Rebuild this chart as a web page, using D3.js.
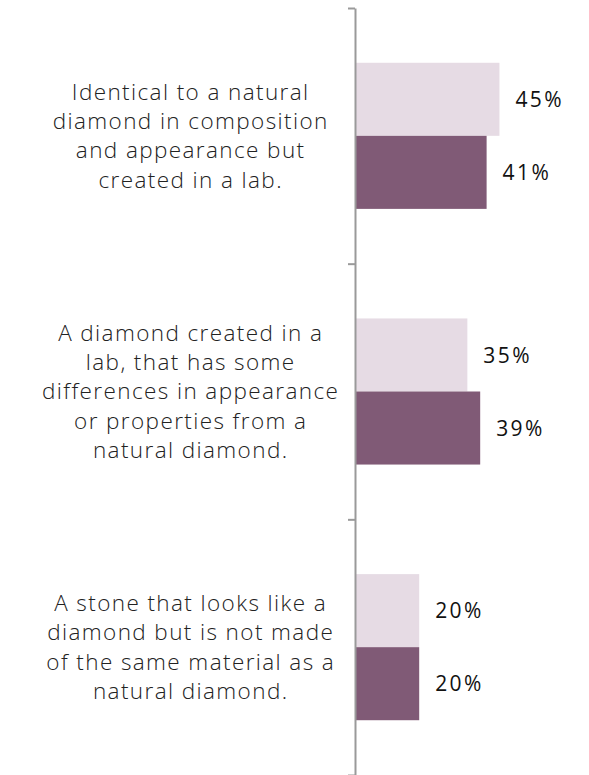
<!DOCTYPE html>
<html>
<head>
<meta charset="utf-8">
<script src="https://cdn.jsdelivr.net/npm/d3@7"></script>
<style>
  html, body { margin: 0; padding: 0; background: #fff; }
  svg { display: block; }
</style>
</head>
<body>
<svg id="chart" width="589" height="775"></svg>
<script>
// Survey answers: what is a lab-grown diamond?
const categories = [
  ["Identical to a natural", "diamond in composition", "and appearance but", "created in a lab."],
  ["A diamond created in a", "lab, that has some", "differences in appearance", "or properties from a", "natural diamond."],
  ["A stone that looks like a", "diamond but is not made", "of the same material as a", "natural diamond."]
];
const seriesNames = ["Earlier wave", "Latest wave"];
const seriesA = [45, 35, 20];
const seriesB = [41, 39, 20];
const seriesColors = ["#e6dbe4", "#805a76"];

const svg = d3.select("#chart");
const axisX = 355, plotTop = 8, plotBottom = 775;
const fontFamily = "'Open Sans', Lato, sans-serif";

const ids = categories.map((_, i) => i);
const y0 = d3.scaleBand().domain(ids).range([plotTop, plotBottom]).paddingInner(0).paddingOuter(0);
const y1 = d3.scaleBand().domain([0, 1]).range([0, y0.bandwidth()]).paddingInner(0).paddingOuter(0.75);
const x = d3.scaleLinear().domain([0, 100]).range([axisX, axisX + 321]);

const rows = ids.map(i => ({ i, values: [seriesA[i], seriesB[i]] }));

const groups = svg.selectAll("g.cat").data(rows).join("g")
  .attr("class", "cat")
  .attr("transform", d => `translate(0,${y0(d.i)})`);

groups.selectAll("rect").data(d => d.values.map((v, s) => ({ v, s }))).join("rect")
  .attr("x", x(0))
  .attr("y", d => y1(d.s))
  .attr("width", d => x(d.v) - x(0))
  .attr("height", y1.bandwidth())
  .attr("fill", d => seriesColors[d.s]);

groups.selectAll("text.val").data(d => d.values.map((v, s) => ({ v, s }))).join("text")
  .attr("class", "val")
  .attr("x", d => x(d.v) + 16)
  .attr("y", d => y1(d.s) + y1.bandwidth() / 2)
  .attr("dy", "0.36em")
  .attr("font-family", fontFamily)
  .attr("font-size", 21)
  .attr("font-weight", 500)
  .attr("letter-spacing", "2.4px")
  .attr("fill", "#111")
  .text(d => d.v + "%");

// Category labels, centred in the left column
const lineH = 29.3;
const labelSpacing = 1.4;
groups.append("text")
  .attr("class", "cat-label")
  .attr("text-anchor", "middle")
  .attr("font-family", fontFamily)
  .attr("font-size", 22.5)
  .attr("font-weight", 300)
  .attr("letter-spacing", labelSpacing + "px")
  .attr("fill", "#222")
  .each(function(d) {
    const lines = categories[d.i];
    const t = d3.select(this);
    const start = y0.bandwidth() / 2 - (lines.length - 1) * lineH / 2;
    lines.forEach((ln, k) => {
      t.append("tspan")
        .attr("x", 190 + labelSpacing / 2)
        .attr("y", start + k * lineH)
        .attr("dy", "0.35em")
        .text(ln);
    });
  });

// Vertical axis with ticks at category boundaries
const yEdge = d3.scaleLinear().domain([0, ids.length]).range([plotTop, plotBottom]);
const axis = svg.append("g")
  .attr("transform", `translate(${axisX},0)`)
  .call(d3.axisLeft(yEdge).tickValues(d3.range(ids.length + 1)).tickFormat("").tickSizeInner(7).tickSizeOuter(0));
axis.selectAll("path, line").attr("stroke", "#9a9a9a").attr("stroke-width", 2);
</script>
</body>
</html>
